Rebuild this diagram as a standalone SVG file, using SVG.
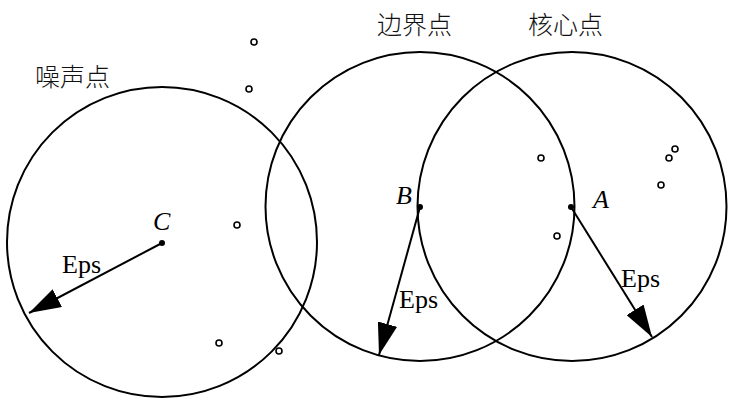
<svg xmlns="http://www.w3.org/2000/svg" width="736" height="410" viewBox="0 0 736 410">
<style>
.ring{fill:none;stroke:#000;stroke-width:2}
.pt{fill:#fff;stroke:#000;stroke-width:1.6}
.ctr{fill:#000}
.lbl{font-family:"Liberation Serif","Times New Roman",serif;font-size:26px;fill:#000}
.it{font-style:italic}
.cjk{font-family:"Noto Sans CJK SC","Noto Sans",sans-serif;font-size:25px;font-weight:300;fill:#111}
.arr{stroke:#000;stroke-width:2;fill:none;marker-end:url(#ah)}
</style>
<defs>
<marker id="ah" viewBox="0 0 32 20" refX="32" refY="10" markerWidth="32" markerHeight="20" markerUnits="userSpaceOnUse" orient="auto">
<path d="M0,0 L32,10 L0,20 Z" fill="#000"/>
</marker>
</defs>
<rect width="736" height="410" fill="#fff"/>
<g id="noise-C">
<circle class="ring" cx="162" cy="242" r="155"/>
<circle class="ctr" cx="162" cy="243" r="3"/>
<text class="lbl it" x="153" y="230">C</text>
<text class="cjk" x="35" y="86">噪声点</text>
</g>
<g id="border-B">
<circle class="ring" cx="420" cy="206.5" r="154.5"/>
<circle class="ctr" cx="420" cy="207" r="3"/>
<text class="lbl it" x="396" y="204">B</text>
<text class="cjk" x="377" y="34">边界点</text>
</g>
<g id="core-A">
<circle class="ring" cx="572" cy="206.5" r="154.5"/>
<circle class="ctr" cx="571" cy="207" r="3"/>
<text class="lbl it" x="593" y="208">A</text>
<text class="cjk" x="528" y="34">核心点</text>
</g>
<g id="points">
<circle class="pt" cx="254" cy="42" r="3"/>
<circle class="pt" cx="249" cy="89" r="3"/>
<circle class="pt" cx="237" cy="225" r="3"/>
<circle class="pt" cx="219" cy="343" r="3"/>
<circle class="pt" cx="279" cy="351" r="3"/>
<circle class="pt" cx="541" cy="158" r="3"/>
<circle class="pt" cx="675" cy="149" r="3"/>
<circle class="pt" cx="669" cy="158" r="3"/>
<circle class="pt" cx="661" cy="185" r="3"/>
<circle class="pt" cx="557" cy="236" r="3"/>
</g>
<g id="connectors">
<line class="arr" x1="162" y1="243" x2="29" y2="313"/>
<line class="arr" x1="420" y1="207" x2="379" y2="355"/>
<line class="arr" x1="571" y1="207" x2="652" y2="337"/>
<text class="lbl" x="62" y="273">Eps</text>
<text class="lbl" x="399" y="308">Eps</text>
<text class="lbl" x="621" y="287">Eps</text>
</g>
</svg>
